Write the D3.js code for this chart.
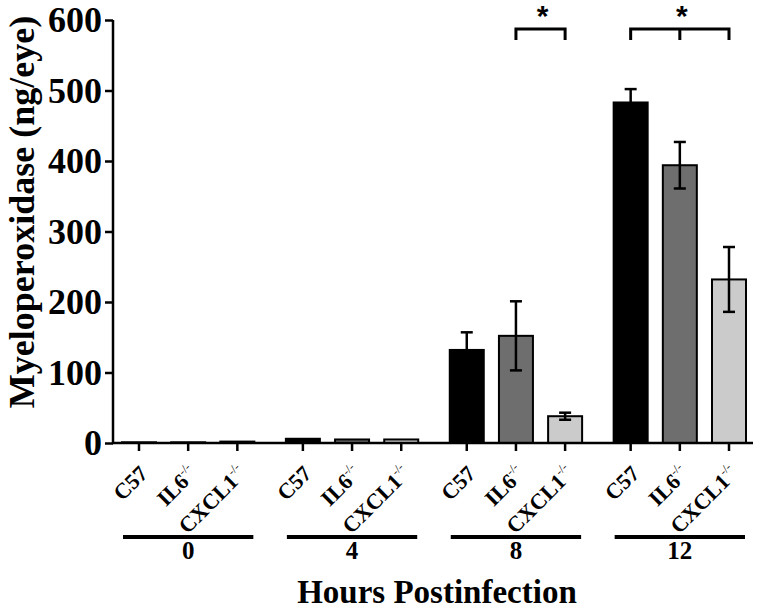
<html>
<head>
<style>
body { margin: 0; background: #fff; }
text { font-family: "Liberation Serif", "Times New Roman", serif; font-weight: bold; fill: #000; }
</style>
</head>
<body>
<svg id="chart" width="757" height="615"></svg>
<script src="https://cdn.jsdelivr.net/npm/d3@7"></script>
<script>
// data
var hours = ["0", "4", "8", "12"];
var strains = ["C57", "IL6", "CXCL1"];
var strainSup = ["", "-/-", "-/-"];
var colors = ["#000000", "#6e6e6e", "#cbcbcb"];
var mpo = [
  [1, 1, 2],
  [6, 5, 5],
  [132, 152, 38],
  [483, 394, 232]
];
var sem = [
  [0, 0, 0],
  [0, 0, 0],
  [25, 49, 5],
  [19, 33, 46]
];
var yTicks = [0, 100, 200, 300, 400, 500, 600];

var svg = d3.select("#chart");
var x0 = 113, x1 = 753, yTop = 20, yBot = 443;

// slot position: groups of three with a gap of one third of a slot
var slot = (g, i) => g * 3.333 + i;
var x = d3.scaleLinear().domain([0, slot(3, 2)]).range([139, 729]);
var y = d3.scaleLinear().domain([0, 600]).range([yBot, yTop]);
var barW = 34;

var rows = [];
mpo.forEach((vals, g) => vals.forEach((v, i) => rows.push({g: g, i: i, v: v, e: sem[g][i]})));

// bars
svg.append("g").selectAll("rect")
  .data(rows).enter().append("rect")
  .attr("x", d => x(slot(d.g, d.i)) - barW / 2)
  .attr("width", barW)
  .attr("y", d => y(d.v))
  .attr("height", d => yBot - y(d.v))
  .attr("fill", d => colors[d.i])
  .attr("stroke", "#000")
  .attr("stroke-width", 2);

// error bars
var eb = svg.append("g").attr("stroke", "#000").attr("stroke-width", 2.5)
  .selectAll("g").data(rows.filter(d => d.e > 0)).enter().append("g");
eb.append("line")
  .attr("x1", d => x(slot(d.g, d.i))).attr("x2", d => x(slot(d.g, d.i)))
  .attr("y1", d => y(d.v - d.e)).attr("y2", d => y(d.v + d.e));
eb.append("line")
  .attr("x1", d => x(slot(d.g, d.i)) - 6).attr("x2", d => x(slot(d.g, d.i)) + 6)
  .attr("y1", d => y(d.v + d.e)).attr("y2", d => y(d.v + d.e));
eb.append("line")
  .attr("x1", d => x(slot(d.g, d.i)) - 6).attr("x2", d => x(slot(d.g, d.i)) + 6)
  .attr("y1", d => y(d.v - d.e)).attr("y2", d => y(d.v - d.e));

// y axis
var yAxis = svg.append("g").attr("transform", "translate(" + x0 + ",0)")
  .call(d3.axisLeft(y).tickValues(yTicks).tickSize(8).tickPadding(3));
yAxis.select(".domain").attr("stroke-width", 2.5).attr("d", "M0," + yTop + "V" + yBot);
yAxis.selectAll(".tick line").attr("stroke-width", 2.5);
yAxis.selectAll("text").style("font-size", "36px").attr("dy", "0.33em");

// x axis line and category ticks
svg.append("line").attr("x1", x0 - 1).attr("x2", x1).attr("y1", yBot).attr("y2", yBot)
  .attr("stroke", "#000").attr("stroke-width", 2.5);
svg.append("g").selectAll("line").data(rows).enter().append("line")
  .attr("x1", d => x(slot(d.g, d.i))).attr("x2", d => x(slot(d.g, d.i)))
  .attr("y1", yBot).attr("y2", yBot + 8)
  .attr("stroke", "#000").attr("stroke-width", 2.5);

// rotated strain labels: whole label (word + superscript) ends near the tick
var lab = svg.append("g").selectAll("g").data(rows).enter().append("g")
  .attr("transform", d => "translate(" + (x(slot(d.g, d.i)) + 10) + "," + (yBot + 32) + ") rotate(-45)");
lab.append("text")
  .attr("text-anchor", "end").attr("y", -10)
  .style("font-size", "12px").style("font-weight", "normal")
  .text(d => strainSup[d.i]);
lab.append("text")
  .attr("text-anchor", "end")
  .attr("x", function(d) { return -this.parentNode.firstChild.getComputedTextLength(); })
  .style("font-size", "22px")
  .text(d => strains[d.i]);

// group lines and hour labels
var grp = svg.append("g").selectAll("g").data(hours).enter().append("g");
grp.append("line")
  .attr("x1", (h, g) => x(slot(g, 0)) - 16).attr("x2", (h, g) => x(slot(g, 2)) + 16)
  .attr("y1", 537).attr("y2", 537)
  .attr("stroke", "#000").attr("stroke-width", 4);
grp.append("text")
  .attr("x", (h, g) => x(slot(g, 1))).attr("y", 559)
  .attr("text-anchor", "middle").style("font-size", "25px")
  .text(h => h);

// significance brackets
var brackets = [
  {g: 2, from: 1, to: 2, mid: false},
  {g: 3, from: 0, to: 2, mid: true}
];
var bk = svg.append("g").selectAll("g").data(brackets).enter().append("g");
bk.append("path")
  .attr("fill", "none").attr("stroke", "#000").attr("stroke-width", 3)
  .attr("d", b => {
    var a = x(slot(b.g, b.from)), c = x(slot(b.g, b.to));
    var p = "M" + a + ",40V29H" + c + "V40";
    if (b.mid) { var m = x(slot(b.g, 1)); p += "M" + m + ",29V40"; }
    return p;
  });
bk.append("text")
  .attr("x", b => b.mid ? x(slot(b.g, 1)) + 2 : (x(slot(b.g, b.from)) + x(slot(b.g, b.to))) / 2 + 2)
  .attr("y", 26)
  .attr("text-anchor", "middle")
  .style("font-family", "'Liberation Sans', Arial, sans-serif")
  .style("font-size", "30px")
  .text("*");

// axis titles
svg.append("text")
  .attr("transform", "translate(34,212) rotate(-90)")
  .attr("text-anchor", "middle").style("font-size", "36px")
  .text("Myeloperoxidase (ng/eye)");
svg.append("text")
  .attr("x", 437).attr("y", 603)
  .attr("text-anchor", "middle").style("font-size", "33px")
  .text("Hours Postinfection");
</script>
</body>
</html>
